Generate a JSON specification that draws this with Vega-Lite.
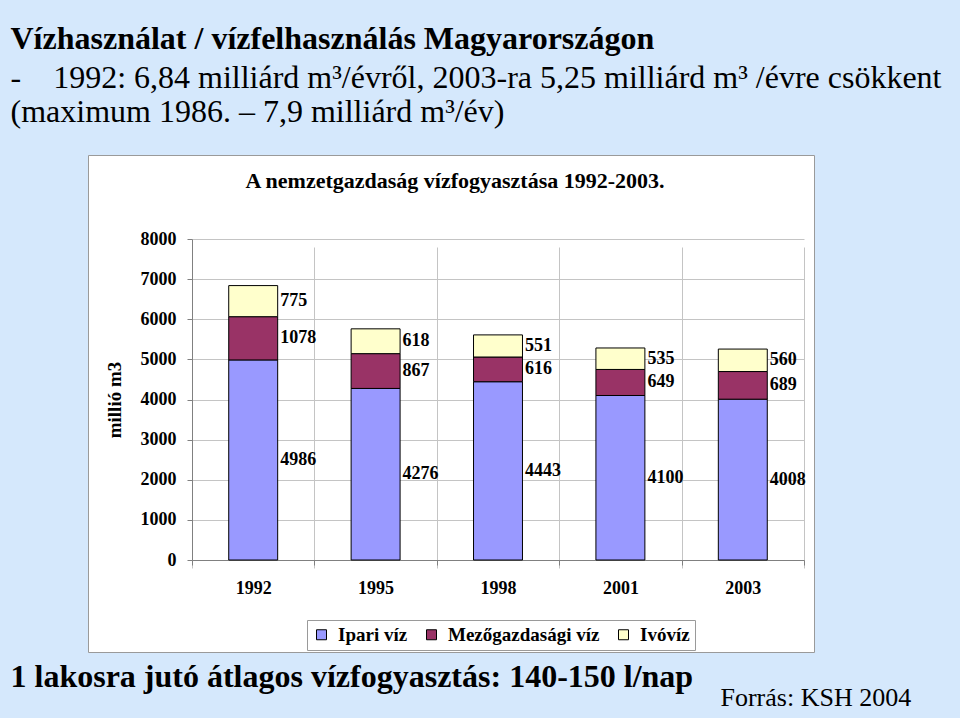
{
  "$schema": "https://vega.github.io/schema/vega-lite/v6.json",
  "background": "#d5e8fc",
  "padding": {"left": 10, "top": 22, "right": 22, "bottom": 10},
  "autosize": {"type": "pad"},
  "config": {
    "font": "Liberation Serif",
    "view": {"fill": "white", "stroke": "#9a9a9a", "strokeWidth": 1},
    "concat": {"spacing": 0},
    "title": {"color": "black", "subtitleColor": "black", "font": "Liberation Serif", "subtitleFont": "Liberation Serif"}
  },
  "title": {
    "text": "Vízhasználat / vízfelhasználás Magyarországon",
    "subtitle": ["-\u00a0\u00a0\u00a0\u00a01992: 6,84 milliárd m³/évről, 2003-ra 5,25 milliárd m³ /évre csökkent", "(maximum 1986. – 7,9 milliárd m³/év)"],
    "anchor": "start",
    "font": "Liberation Serif",
    "subtitleFont": "Liberation Serif",
    "fontSize": 32,
    "fontWeight": "bold",
    "subtitleFontSize": 32,
    "subtitleFontWeight": "normal",
    "subtitleLineHeight": 34,
    "subtitlePadding": 7,
    "offset": 26
  },
  "vconcat": [
    {
      "title": {"text": "Forrás: KSH 2004", "orient": "bottom", "anchor": "start", "dx": 710, "font": "Liberation Serif", "fontSize": 26, "fontWeight": "normal", "offset": -8},
      "vconcat": [
        {
          "title": {"text": "1 lakosra jutó átlagos vízfogyasztás: 140-150 l/nap", "orient": "bottom", "anchor": "start", "dx": -77, "font": "Liberation Serif", "fontSize": 32, "fontWeight": "bold", "offset": 9},
          "vconcat": [
            {
              "width": 726,
              "height": 497,
              "title": {"text": "A nemzetgazdaság vízfogyasztása 1992-2003.", "anchor": "middle", "frame": "group", "offset": -38, "dx": 4, "font": "Liberation Serif", "fontSize": 22, "fontWeight": "bold"},
              "data": {"values": [
                {"ev": "1992", "tipus": "Ipari víz", "ertek": 4986, "sorrend": 1},
                {"ev": "1992", "tipus": "Mezőgazdasági víz", "ertek": 1078, "sorrend": 2},
                {"ev": "1992", "tipus": "Ivóvíz", "ertek": 775, "sorrend": 3},
                {"ev": "1995", "tipus": "Ipari víz", "ertek": 4276, "sorrend": 1},
                {"ev": "1995", "tipus": "Mezőgazdasági víz", "ertek": 867, "sorrend": 2},
                {"ev": "1995", "tipus": "Ivóvíz", "ertek": 618, "sorrend": 3},
                {"ev": "1998", "tipus": "Ipari víz", "ertek": 4443, "sorrend": 1},
                {"ev": "1998", "tipus": "Mezőgazdasági víz", "ertek": 616, "sorrend": 2},
                {"ev": "1998", "tipus": "Ivóvíz", "ertek": 551, "sorrend": 3},
                {"ev": "2001", "tipus": "Ipari víz", "ertek": 4100, "sorrend": 1},
                {"ev": "2001", "tipus": "Mezőgazdasági víz", "ertek": 649, "sorrend": 2},
                {"ev": "2001", "tipus": "Ivóvíz", "ertek": 535, "sorrend": 3},
                {"ev": "2003", "tipus": "Ipari víz", "ertek": 4008, "sorrend": 1},
                {"ev": "2003", "tipus": "Mezőgazdasági víz", "ertek": 689, "sorrend": 2},
                {"ev": "2003", "tipus": "Ivóvíz", "ertek": 560, "sorrend": 3}
              ]},
              "encoding": {
                "x": {
                  "field": "ev", "type": "ordinal",
                  "scale": {"range": [104, 716], "paddingInner": 0, "paddingOuter": 0},
                  "axis": {"title": null, "labelAngle": 0, "offset": -92, "tickBand": "extent", "grid": true, "gridColor": "#c4c4c4", "domainColor": "#808080", "tickColor": "#808080", "tickSize": 5, "labelFont": "Liberation Serif", "labelFontSize": 18, "labelFontWeight": "bold", "labelPadding": 14, "labelColor": "black"}
                },
                "y": {
                  "field": "ertek", "type": "quantitative", "stack": "zero",
                  "scale": {"domain": [0, 8000], "range": [405, 84], "nice": false},
                  "axis": {"title": "millió m3", "titleFont": "Liberation Serif", "titleFontSize": 19, "titleFontWeight": "bold", "titleColor": "black", "titlePadding": 16, "offset": -104, "values": [0, 1000, 2000, 3000, 4000, 5000, 6000, 7000, 8000], "format": "d", "labelFont": "Liberation Serif", "labelFontSize": 18, "labelFontWeight": "bold", "labelColor": "black", "labelPadding": 11, "tickSize": 5, "tickColor": "#808080", "domainColor": "#808080", "grid": true, "gridColor": "#c4c4c4"}
                },
                "order": {"field": "sorrend", "type": "quantitative"}
              },
              "layer": [
                {
                  "mark": {"type": "bar", "width": {"band": 0.4}, "stroke": "black", "strokeWidth": 1},
                  "encoding": {
                    "color": {
                      "field": "tipus", "type": "nominal",
                      "scale": {"domain": ["Ipari víz", "Mezőgazdasági víz", "Ivóvíz"], "range": ["#9999FF", "#993366", "#FFFFCC"]},
                      "legend": {"title": null, "orient": "none", "legendX": 219, "legendY": 465, "direction": "horizontal", "symbolType": "square", "symbolSize": 100, "symbolStrokeColor": "black", "symbolStrokeWidth": 1, "symbolOpacity": 1, "labelFont": "Liberation Serif", "labelFontSize": 19, "labelFontWeight": "bold", "labelColor": "black", "labelOffset": 7, "columnPadding": 14, "padding": 5, "strokeColor": "#9a9a9a", "fillColor": "white", "labelLimit": 300}
                    }
                  }
                },
                {
                  "mark": {"type": "text", "align": "left", "baseline": "middle", "dx": 27, "font": "Liberation Serif", "fontSize": 18, "fontWeight": "bold", "color": "black"},
                  "encoding": {
                    "y": {"field": "ertek", "type": "quantitative", "stack": "zero", "bandPosition": 0.5},
                    "detail": {"field": "tipus", "type": "nominal"},
                    "text": {"field": "ertek", "type": "quantitative"}
                  }
                }
              ]
            }
          ]
        }
      ]
    }
  ]
}
